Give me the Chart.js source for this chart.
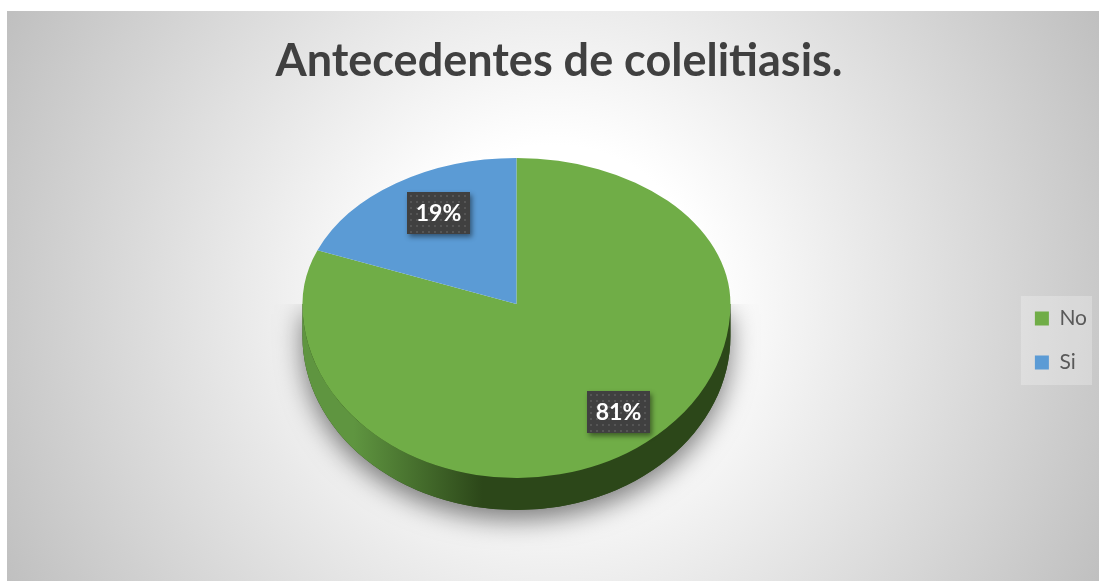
<!DOCTYPE html>
<html>
<head>
<meta charset="utf-8">
<script src="https://cdn.jsdelivr.net/npm/chart.js@4.4.1/dist/chart.umd.min.js"></script>
<style>
  html, body { margin: 0; padding: 0; background: #fff; }
</style>
</head>
<body>
<canvas id="pieChart" width="1099" height="581"></canvas>
<script>
// datos del gráfico
const categories = ['No', 'Si'];
const percentages = [81, 19];

// estilos
const sliceColors = ['#70AD47', '#5B9BD5'];
const sideColors = [['#5f9540', '#2c4719'], ['#4d7fb0', '#22405e']];

// geometría del "pastel 3D" (vista inclinada)
const PIE_R = 214;
const TOP_Y = 304;     // vértice en pantalla
const K_TOP = 0.682;   // achatamiento mitad trasera
const K_BOT = 0.813;   // achatamiento mitad delantera
const DEPTH = 32;      // grosor del borde
const LABEL_F = 0.75;
const PERSP = 0.165;   // lo cercano se ve más ancho

// dibuja en una de las dos mitades con su propio achatamiento
function withHalf(ctx, chart, cy, upper, draw) {
  ctx.save();
  ctx.beginPath();
  if (upper) ctx.rect(0, 0, chart.width, TOP_Y + 0.5);
  else ctx.rect(0, TOP_Y, chart.width, chart.height - TOP_Y);
  ctx.clip();
  ctx.translate(0, TOP_Y);
  ctx.scale(1, upper ? K_TOP : K_BOT);
  ctx.translate(0, -cy);
  draw();
  ctx.restore();
}

const backgroundPlugin = {
  id: 'fondo',
  beforeDraw(chart) {
    const ctx = chart.ctx;
    ctx.save();
    ctx.fillStyle = '#ffffff';
    ctx.fillRect(0, 0, chart.width, chart.height);
    const g = ctx.createRadialGradient(553, 300, 0, 553, 300, 620);
    g.addColorStop(0, '#ffffff');
    g.addColorStop(0.25, '#ffffff');
    g.addColorStop(1, '#bfbfbf');
    ctx.fillStyle = g;
    ctx.fillRect(7, 11, chart.width - 7, chart.height - 11);
    // fondo de la leyenda
    const lg = chart.legend;
    if (lg && lg.legendHitBoxes && lg.legendHitBoxes.length) {
      const hb = lg.legendHitBoxes;
      const x0 = hb[0].left - 14, y0 = hb[0].top - 12;
      const y1 = hb[hb.length - 1].top + hb[hb.length - 1].height + 12;
      ctx.fillStyle = 'rgba(255,255,255,0.25)';
      ctx.fillRect(x0, y0, chart.width - 7 - x0, y1 - y0);
    }
    ctx.restore();
  }
};

const pie3dPlugin = {
  id: 'pie3d',
  beforeDatasetsDraw(chart) {
    const ctx = chart.ctx;
    const arcs = chart.getDatasetMeta(0).data;
    if (!arcs.length) return false;
    const cx = arcs[0].x, cy = arcs[0].y, R = arcs[0].outerRadius;
    const d = DEPTH / K_BOT;

    // sombra + borde lateral (solo la mitad delantera)
    withHalf(ctx, chart, cy, false, () => {
      ctx.save();
      ctx.shadowColor = 'rgba(0,0,0,0.5)';
      ctx.shadowBlur = 26;
      ctx.shadowOffsetY = 10;
      ctx.beginPath();
      ctx.moveTo(cx + R, cy);
      ctx.arc(cx, cy + d, R, 0, Math.PI);
      ctx.lineTo(cx - R, cy);
      ctx.closePath();
      ctx.fillStyle = '#2c4719';
      ctx.fill();
      ctx.restore();

      arcs.forEach((arc, i) => {
        const g = ctx.createLinearGradient(cx - R, 0, cx + R, 0);
        g.addColorStop(0, sideColors[i][0]);
        g.addColorStop(0.12, sideColors[i][0]);
        g.addColorStop(0.42, sideColors[i][1]);
        g.addColorStop(1, sideColors[i][1]);
        for (const shift of [-2 * Math.PI, 0, 2 * Math.PI]) {
          const a = Math.max(arc.startAngle + shift, 0);
          const b = Math.min(arc.endAngle + shift, Math.PI);
          if (b <= a) continue;
          ctx.beginPath();
          ctx.arc(cx, cy, R, a, b);
          ctx.arc(cx, cy + d, R, b, a, true);
          ctx.closePath();
          ctx.fillStyle = g;
          ctx.fill();
        }
      });
    });

    // cara superior: los arcos de Chart.js, en dos mitades
    [true, false].forEach(upper => {
      withHalf(ctx, chart, cy, upper, () => {
        arcs.forEach(arc => arc.draw(ctx));
      });
    });
    return false;
  },
  afterDraw(chart) {
    const ctx = chart.ctx;
    const arcs = chart.getDatasetMeta(0).data;
    arcs.forEach((arc, i) => {
      const mid = (arc.startAngle + arc.endAngle) / 2;
      const s = Math.sin(mid);
      const px = arc.x + Math.cos(mid) * arc.outerRadius * LABEL_F * (1 + PERSP * s);
      const dy = s * arc.outerRadius * LABEL_F;
      const py = TOP_Y + dy * (dy < 0 ? K_TOP : K_BOT);
      const w = 63, h = 42;
      const x0 = Math.round(px - w / 2), y0 = Math.round(py - h / 2);

      ctx.save();
      ctx.shadowColor = 'rgba(0,0,0,0.45)';
      ctx.shadowBlur = 5;
      ctx.shadowOffsetX = 2;
      ctx.shadowOffsetY = 3;
      ctx.fillStyle = '#404040';
      ctx.fillRect(x0, y0, w, h);
      ctx.restore();

      // textura punteada
      ctx.save();
      ctx.fillStyle = '#555555';
      for (let yy = y0 + 3; yy < y0 + h - 1; yy += 6) {
        for (let xx = x0 + 3; xx < x0 + w - 1; xx += 6) {
          ctx.fillRect(xx, yy, 2, 2);
        }
      }
      ctx.fillStyle = '#ffffff';
      ctx.font = 'bold 23px Lato';
      ctx.textAlign = 'center';
      ctx.textBaseline = 'middle';
      ctx.fillText(percentages[i] + '%', x0 + w / 2, y0 + h / 2 + 1);
      ctx.restore();
    });
  }
};

const ctx = document.getElementById('pieChart').getContext('2d');
new Chart(ctx, {
  type: 'pie',
  data: {
    labels: categories,
    datasets: [{
      data: percentages,
      backgroundColor: sliceColors,
      borderWidth: 0
    }]
  },
  options: {
    responsive: false,
    animation: false,
    radius: PIE_R,
    layout: { padding: { left: 21, right: 2, top: 12, bottom: 8 } },
    plugins: {
      title: {
        display: true,
        text: 'Antecedentes de colelitiasis.',
        color: '#404040',
        font: { family: 'Lato', size: 45, weight: 'bold' },
        padding: { top: 22, bottom: 20 }
      },
      legend: {
        position: 'right',
        fullSize: false,
        labels: {
          boxWidth: 14,
          boxHeight: 14,
          padding: 23,
          color: '#595959',
          font: { family: 'Lato', size: 21 }
        }
      },
      tooltip: { enabled: false }
    }
  },
  plugins: [backgroundPlugin, pie3dPlugin]
});
</script>
</body>
</html>
